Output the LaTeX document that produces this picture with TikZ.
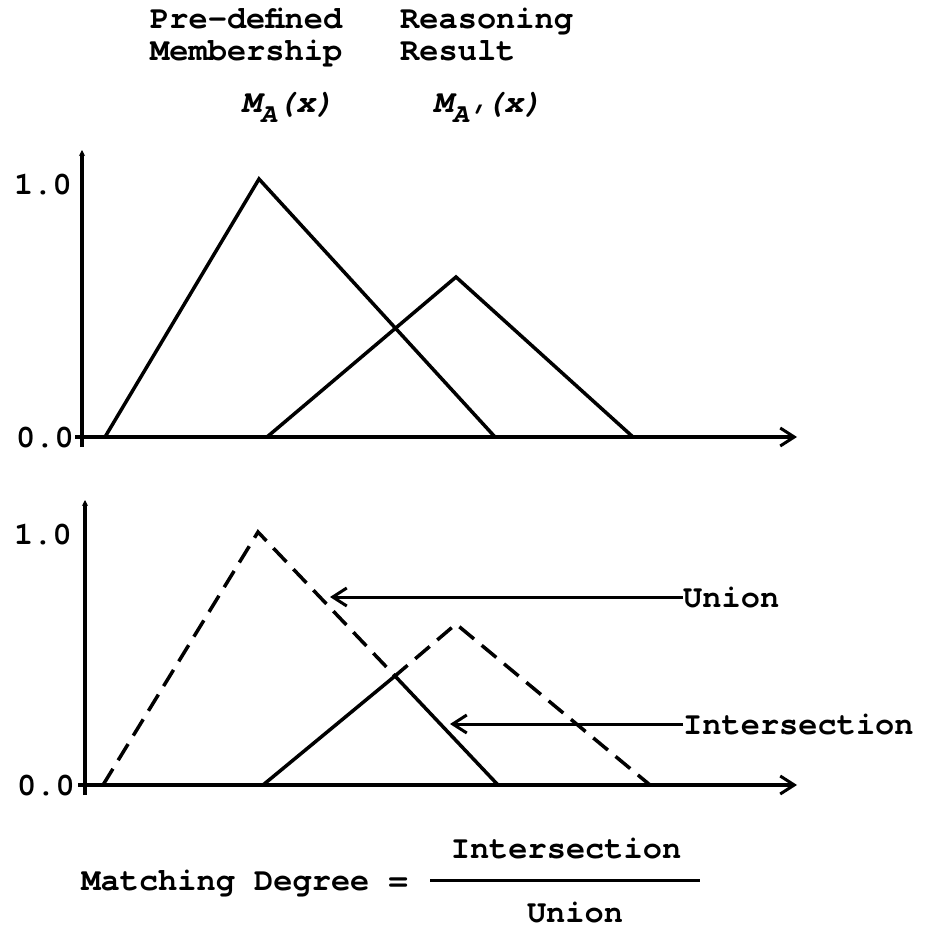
\documentclass[tikz,border=0pt]{standalone}
\usepackage{fontspec}
\setmainfont{texgyrecursor}[Extension=.otf, UprightFont=*-regular, BoldFont=*-bold, ItalicFont=*-italic, BoldItalicFont=*-bolditalic]
\usetikzlibrary{arrows.meta}
\begin{document}
\begin{tikzpicture}[x=1pt,y=-1pt,
  txt/.style={font=\fontsize{32}{32}\selectfont\bfseries, inner sep=0pt},
  curve/.style={line width=3.5pt, line join=miter},
  dcurve/.style={curve, dash pattern=on 19pt off 10pt},
  axis/.style={line width=3.5pt},
  tipx/.style={-{Straight Barb[length=14pt,width=18pt,line width=3pt]}},
  tipy/.style={-{Stealth[length=6pt,width=6pt]}},
]
\useasboundingbox (0,0) rectangle (932,928);
\fill[white] (0,0) rectangle (932,928);

% headings
\node[txt, anchor=base west] (pre) at (150,29) {Pre-defined};
\node[txt, anchor=base west] (mem) at (150,61) {Membership};
\node[txt, anchor=base west] (rea) at (400,29) {Reasoning};
\node[txt, anchor=base west] (res) at (400,61) {Result};
\node[txt, anchor=base] (ma) at (288,113) {\itshape M\raisebox{-10pt}{\fontsize{27}{27}\selectfont A}(x)};
\node[txt, anchor=base] (map) at (488,113) {\itshape M\raisebox{-10pt}{\fontsize{27}{27}\selectfont A\char"2019}(x)};

% ---------- top panel ----------
\coordinate (yb1) at (82,447);
\coordinate (yt1) at (82,150);
\coordinate (xl1) at (75,437);
\coordinate (xe1) at (797,437);
\draw[axis, tipy] (yb1) -- (yt1);
\draw[axis, tipx] (xl1) -- (xe1);
\node[txt, anchor=base east] (one1) at (72,195) {1.0};
\node[txt, anchor=base east] (zero1) at (74,447) {0.0};

\coordinate (a1) at (105,437);
\coordinate (a2) at (259,179);
\coordinate (a3) at (495,437);
\coordinate (b1) at (267,437);
\coordinate (b2) at (456,277);
\coordinate (b3) at (633,437);
\draw[curve] (a1) -- (a2) -- (a3);
\draw[curve] (b1) -- (b2) -- (b3);

% ---------- bottom panel ----------
\coordinate (yb2) at (85,795);
\coordinate (yt2) at (85,500);
\coordinate (xl2) at (78,785);
\coordinate (xe2) at (797,785);
\draw[axis, tipy] (yb2) -- (yt2);
\draw[axis, tipx] (xl2) -- (xe2);
\node[txt, anchor=base east] (one2) at (72,544) {1.0};
\node[txt, anchor=base east] (zero2) at (75,795) {0.0};

\coordinate (u1) at (103,785);
\coordinate (u2) at (258,532);
\coordinate (x2) at (395,676);
\coordinate (u4) at (456,624);
\coordinate (u5) at (650,785);
\coordinate (i1) at (263,785);
\coordinate (i3) at (498,785);
\draw[dcurve] (u1) -- (u2) -- (x2) -- (u4) -- (u5);
\draw[curve] (i1) -- (x2) -- (i3);

\node[txt, anchor=base west] (uni) at (683,607) {Union};
\node[txt, anchor=base west] (ints) at (683,734) {Intersection};
\coordinate (ut) at (330,597);
\coordinate (it) at (450,724);
\draw[line width=3pt, tipx] (uni.west |- ut) -- (ut);
\draw[line width=3pt, tipx] (ints.west |- it) -- (it);

% ---------- formula ----------
\node[txt, anchor=base east] (md) at (408,890) {Matching Degree =};
\node[txt, anchor=base] (num) at (566,858) {Intersection};
\node[txt, anchor=base] (den) at (575,922) {Union};
\coordinate (fl) at (430,880);
\coordinate (fr) at (700,880);
\draw[line width=3pt] (fl) -- (fr);
\end{tikzpicture}
\end{document}
